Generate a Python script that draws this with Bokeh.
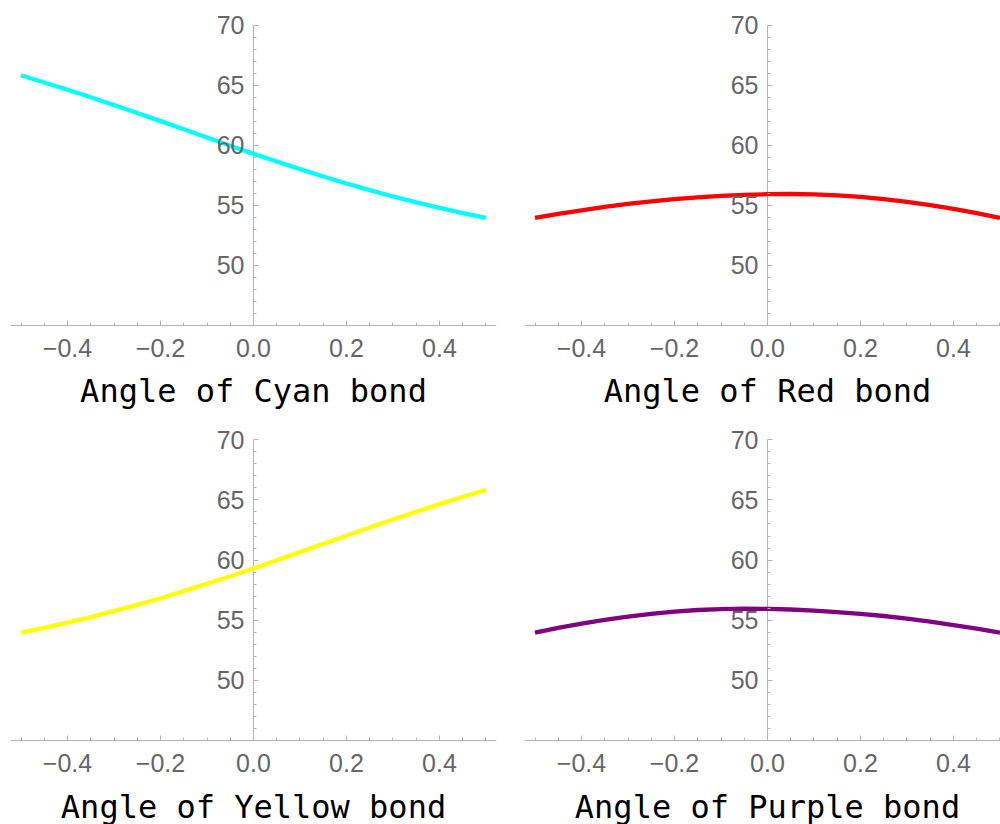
from bokeh.plotting import figure
from bokeh.models import FixedTicker, CustomJSTickFormatter, Range1d, Label
from bokeh.layouts import column, row
from bokeh.embed import file_html
from bokeh.resources import INLINE

# ---- data ----
angle = [-0.5, -0.45, -0.4, -0.35, -0.3, -0.25, -0.2, -0.15, -0.1, -0.05, 0.0,
         0.05, 0.1, 0.15, 0.2, 0.25, 0.3, 0.35, 0.4, 0.45, 0.5]
cyan_vals = [65.85, 65.25, 64.65, 64.02, 63.38, 62.71, 62.03, 61.35, 60.66, 59.98, 59.3,
             58.66, 58.03, 57.42, 56.83, 56.28, 55.75, 55.26, 54.8, 54.37, 53.97]
red_vals = [53.97, 54.3, 54.6, 54.88, 55.13, 55.35, 55.53, 55.68, 55.8, 55.89, 55.94,
            55.96, 55.93, 55.85, 55.72, 55.53, 55.3, 55.03, 54.72, 54.37, 53.97]
yellow_vals = [53.97, 54.37, 54.8, 55.26, 55.75, 56.28, 56.83, 57.42, 58.03, 58.66, 59.3,
               59.98, 60.66, 61.35, 62.03, 62.71, 63.38, 64.02, 64.65, 65.25, 65.85]
purple_vals = [53.97, 54.37, 54.72, 55.03, 55.3, 55.53, 55.72, 55.85, 55.93, 55.96, 55.94,
               55.89, 55.8, 55.68, 55.53, 55.35, 55.13, 54.88, 54.6, 54.3, 53.97]

labels = ["Angle of Cyan bond", "Angle of Red bond",
          "Angle of Yellow bond", "Angle of Purple bond"]
colors = ["#00FFFF", "#FF0000", "#FFFF00", "#800080"]

x_major = [-0.4, -0.2, 0.0, 0.2, 0.4]
x_minor = [-0.5, -0.45, -0.35, -0.3, -0.25, -0.15, -0.1, -0.05,
           0.05, 0.1, 0.15, 0.25, 0.3, 0.35, 0.45, 0.5]
y_major = [50, 55, 60, 65, 70]
y_minor = [46, 47, 48, 49, 51, 52, 53, 54, 56, 57, 58, 59,
           61, 62, 63, 64, 66, 67, 68, 69]
y_axis_base = 45          # where the horizontal axis crosses
x_start = -0.5226
label_y = 39.5            # baseline of the panel caption (data units)

AXIS_GRAY = "#b3b3b3"
LABEL_GRAY = "#666666"

fmt = CustomJSTickFormatter(code="""
    return tick < 0 ? "\u2212" + Math.abs(tick).toFixed(1) : tick.toFixed(1);
""")


def panel(yvals, color, text, x_end, y_lo, y_hi, width, height, bl, br):
    p = figure(width=width, height=height, output_backend="svg",
               toolbar_location=None, x_range=Range1d(x_start, x_end),
               y_range=Range1d(y_lo, y_hi),
               min_border_left=bl, min_border_right=br,
               min_border_top=0, min_border_bottom=0)
    p.outline_line_color = None
    p.grid.visible = False
    p.background_fill_color = "white"
    p.border_fill_color = "white"

    # vertical axis line from the horizontal axis up to the last major tick
    p.segment(x0=[0], y0=[y_axis_base], x1=[0], y1=[y_major[-1]],
              line_color=AXIS_GRAY, line_width=1)

    p.line(angle, yvals, line_color=color, line_width=4.3)

    xa = p.xaxis[0]
    xa.ticker = FixedTicker(ticks=x_major, minor_ticks=x_minor)
    xa.formatter = fmt
    xa.fixed_location = y_axis_base
    ya = p.yaxis[0]
    ya.ticker = FixedTicker(ticks=y_major, minor_ticks=y_minor)
    ya.fixed_location = 0
    for ax in (xa, ya):
        ax.axis_line_color = AXIS_GRAY
        ax.major_tick_line_color = AXIS_GRAY
        ax.minor_tick_line_color = AXIS_GRAY
        ax.major_tick_in = 5
        ax.major_tick_out = 0
        ax.minor_tick_in = 3
        ax.minor_tick_out = 0
        ax.major_label_text_font = "Liberation Sans"
        ax.major_label_text_font_size = "25px"
        ax.major_label_text_color = LABEL_GRAY
    ya.axis_line_color = None
    xa.major_label_standoff = 14
    ya.major_label_standoff = 9

    p.add_layout(Label(x=0, y=label_y, text=text, text_align="center",
                       text_baseline="alphabetic",
                       text_font="DejaVu Sans Mono", text_font_size="32px",
                       text_color="black"))
    return p


p1 = panel(cyan_vals, colors[0], labels[0], 0.5226, 37.333, 72.083, 510, 417, 10, 14)
p2 = panel(red_vals, colors[1], labels[1], 0.5011, 37.333, 72.083, 490, 417, 14, 0)
p3 = panel(yellow_vals, colors[2], labels[2], 0.5226, 38.016, 71.854, 510, 407, 10, 14)
p4 = panel(purple_vals, colors[3], labels[3], 0.5011, 38.016, 71.854, 490, 407, 14, 0)

layout = column(row(p1, p2, spacing=0), row(p3, p4, spacing=0), spacing=0)

open("out.html", "w").write(file_html(layout, INLINE))
